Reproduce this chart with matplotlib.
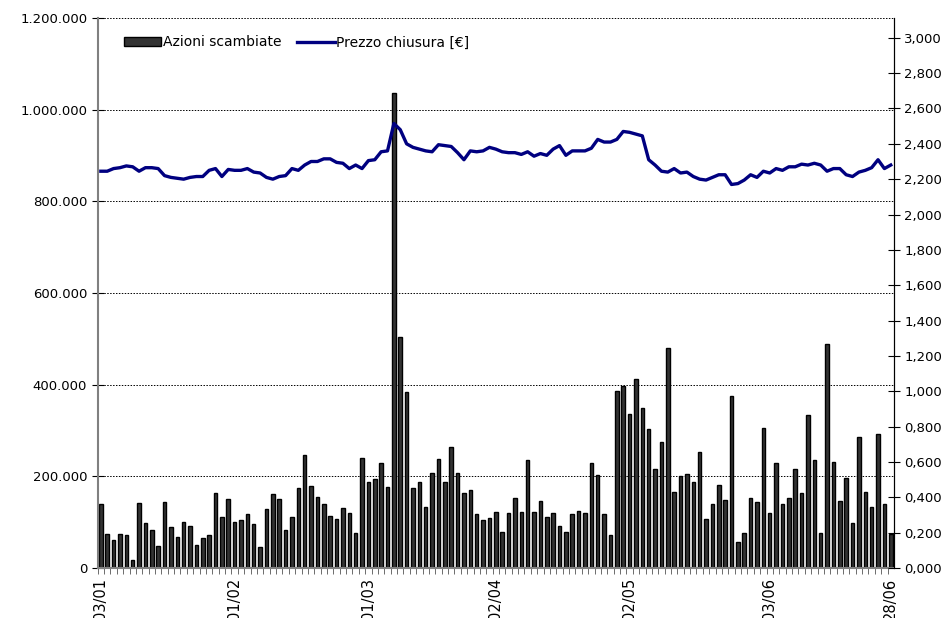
import numpy as np
import matplotlib
matplotlib.use('Agg')
import matplotlib.pyplot as plt
from matplotlib.ticker import FuncFormatter, MultipleLocator

# daily traded shares (one bar per session)
volumes = [
    139, 75, 61, 75, 71, 18, 141, 99, 82, 47,
    145, 90, 68, 100, 91, 51, 66, 72, 163, 112,
    150, 101, 105, 118, 96, 45, 128, 161, 151, 83,
    112, 174, 247, 180, 155, 139, 113, 107, 131, 120,
    76, 241, 188, 194, 228, 177, 1036, 505, 385, 174,
    188, 133, 207, 237, 188, 263, 207, 164, 170, 118,
    105, 109, 123, 79, 120, 153, 122, 235, 122, 146,
    112, 120, 91, 79, 118, 124, 120, 230, 202, 118,
    72, 386, 396, 337, 412, 349, 303, 217, 274, 479,
    166, 201, 205, 188, 252, 107, 139, 182, 148, 375,
    56, 77, 152, 145, 306, 120, 228, 139, 153, 217,
    164, 334, 235, 77, 488, 232, 146, 196, 99, 286,
    166, 133, 293, 139, 74,
]
volumes = [v * 1000 for v in volumes]

# closing price
prices = [
    2.245, 2.245, 2.260, 2.265, 2.275, 2.270, 2.245, 2.265, 2.265, 2.260,
    2.220, 2.210, 2.205, 2.200, 2.210, 2.215, 2.215, 2.250, 2.260, 2.215,
    2.255, 2.250, 2.250, 2.260, 2.240, 2.235, 2.210, 2.200, 2.215, 2.220,
    2.260, 2.250, 2.280, 2.300, 2.300, 2.315, 2.315, 2.295, 2.290, 2.260,
    2.280, 2.260, 2.305, 2.310, 2.355, 2.360, 2.515, 2.480, 2.400, 2.380,
    2.370, 2.360, 2.355, 2.395, 2.390, 2.385, 2.350, 2.310, 2.360, 2.355,
    2.360, 2.380, 2.370, 2.355, 2.350, 2.350, 2.340, 2.355, 2.330, 2.345,
    2.335, 2.370, 2.390, 2.335, 2.360, 2.360, 2.360, 2.375, 2.425, 2.410,
    2.410, 2.425, 2.470, 2.465, 2.455, 2.445, 2.310, 2.280, 2.245, 2.240,
    2.260, 2.235, 2.240, 2.215, 2.200, 2.195, 2.210, 2.225, 2.225, 2.170,
    2.175, 2.195, 2.225, 2.210, 2.245, 2.235, 2.260, 2.250, 2.270, 2.270,
    2.285, 2.280, 2.290, 2.280, 2.245, 2.260, 2.260, 2.225, 2.215, 2.240,
    2.250, 2.265, 2.310, 2.260, 2.280,
]

date_labels = ['03/01', '01/02', '01/03', '02/04', '02/05', '03/06', '28/06']
label_pos = [0, 21, 42, 62, 83, 105, 124]

plt.rcParams['font.family'] = ['DejaVu Sans']

fig = plt.figure(figsize=(9.5, 6.18), dpi=100)
ax = fig.add_axes([0.1028, 0.0809, 0.8382, 0.890])
ax2 = ax.twinx()

x = np.arange(len(volumes))
ax.bar(x, volumes, width=0.55, color='#333333', edgecolor='black',
       linewidth=1.0, label='Azioni scambiate', zorder=2)
ax2.plot(x, prices, color='#000080', linewidth=2.4, label='Prezzo chiusura [€]')

ax.set_xlim(-0.36, 124.5)
ax.set_ylim(0, 1200000)
ax2.set_ylim(0, 3.112)

ax.yaxis.set_major_locator(MultipleLocator(200000))
ax.yaxis.set_major_formatter(FuncFormatter(lambda v, p: f'{v:,.0f}'.replace(',', '.')))
ax2.yaxis.set_major_locator(MultipleLocator(0.2))
ax2.yaxis.set_major_formatter(FuncFormatter(lambda v, p: f'{v:.3f}'.replace('.', ',') if v <= 3.001 else ''))

ax.grid(True, axis='y', linestyle=(0, (1.5, 1.5)), color='black', linewidth=0.7)
ax.set_axisbelow(True)

ax.set_xticks(label_pos)
ax.set_xticklabels(date_labels, rotation=90, fontsize=10.5)
ax.set_xticks(np.arange(len(volumes)) - 0.5, minor=True)
ax.tick_params(axis='x', which='major', length=0, pad=7)
ax.tick_params(axis='x', which='minor', length=4, direction='out', color='#555555')
ax.tick_params(axis='y', direction='inout', length=8, labelsize=9.5, color='black')
ax2.tick_params(axis='y', direction='inout', length=8, labelsize=9.5, color='black')

for a in (ax, ax2):
    a.spines['top'].set_visible(False)
ax.spines['left'].set_color('#808080')
ax.spines['left'].set_linewidth(1.5)
ax.spines['bottom'].set_color('#808080')
ax.spines['bottom'].set_linewidth(1.5)
ax2.spines['left'].set_visible(False)
ax2.spines['bottom'].set_visible(False)
ax2.spines['right'].set_color('black')

h1, l1 = ax.get_legend_handles_labels()
h2, l2 = ax2.get_legend_handles_labels()
ax2.legend(h1 + h2, l1 + l2, loc='upper left', bbox_to_anchor=(0.017, 0.991),
           ncol=2, frameon=False, fontsize=10, handlelength=2.7,
           handletextpad=0.1, columnspacing=1.15)

fig.savefig('out.png', dpi=100)
